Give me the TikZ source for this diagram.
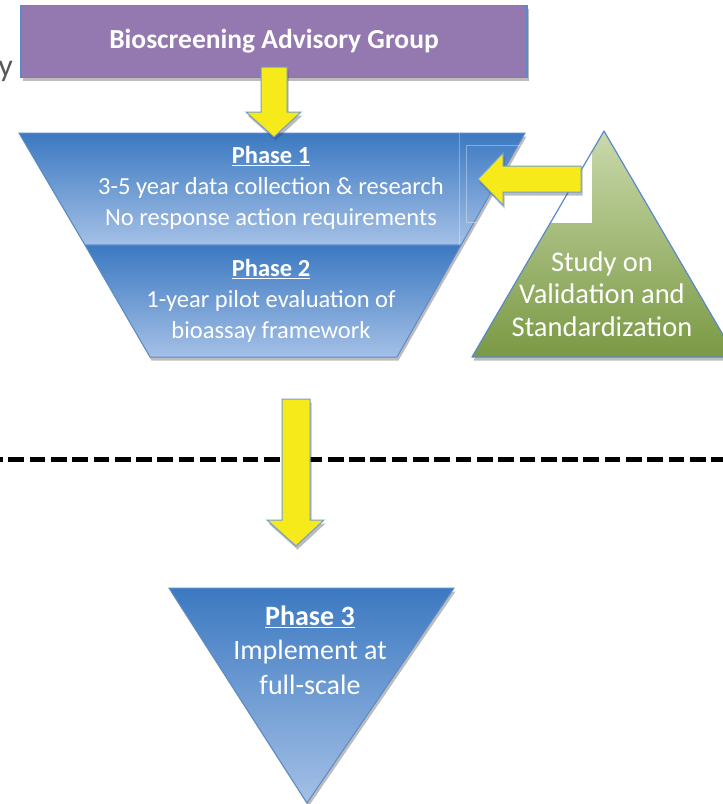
\documentclass[tikz,border=0pt]{standalone}
\usepackage{fontspec}
\setmainfont{Carlito}
\usetikzlibrary{shadows,positioning}

\definecolor{groupfill}{HTML}{9479B0}
\definecolor{edgeblue}{HTML}{5A8AC8}
\definecolor{phasetop}{HTML}{3C79C1}
\definecolor{phasebot}{HTML}{A4C0E6}
\definecolor{studytop}{HTML}{CAD9AB}
\definecolor{studybot}{HTML}{7A9944}
\definecolor{arrowyellow}{HTML}{F6EA1A}

\tikzset{
    softshadow/.style={drop shadow={opacity=0.35,shadow xshift=1.5pt,shadow yshift=-3.5pt,fill=black!75}},
    phasefill/.style={top color=phasetop,bottom color=phasebot,draw=edgeblue,line width=1pt},
    studyfill/.style={top color=studytop,bottom color=studybot},
    yarrow/.style={fill=arrowyellow,draw=edgeblue!85,line width=1pt,softshadow},
    phasetext/.style={text=white,align=center,inner sep=0pt,font=\fontsize{24.5}{31}\selectfont},
}

\begin{document}
\begin{tikzpicture}[x=1pt,y=-1pt]
    \useasboundingbox (0,0) rectangle (723,804);

    % Stray letter cut by the left edge
    \node[anchor=base east,inner sep=0pt,text=black!65,font=\fontsize{32}{32}\selectfont] (stray) at (13,76) {y};

    % Advisory group on top
    \node[fill=groupfill,draw=edgeblue,line width=1.5pt,minimum width=506pt,minimum height=72pt,
          inner sep=0pt,softshadow,text=white,font=\fontsize{27.5}{30}\selectfont\bfseries] (group) at (274,41.5)
          {Bioscreening Advisory Group};

    % Funnel: phase 1 and phase 2
    \path[phasefill,softshadow] (19,133) -- (525,133) -- (461,245) -- (85,245) -- cycle;
    \path[phasefill,softshadow] (85,245) -- (461,245) -- (397,357) -- (150,357) -- cycle;
    \draw[white,opacity=0.3,line width=0.6pt] (459,133) -- (459,245);
    \draw[white,opacity=0.35,line width=0.6pt] (466,145) rectangle (592,222);

    % Study triangle, with the blank patch over it
    \path[studyfill,softshadow] (604,131) -- (736,357) -- (472,357) -- cycle;
    \fill[white] (540,145) rectangle (592,223);
    \draw[edgeblue,line width=1.2pt,line join=round] (604,131) -- (736,357) -- (472,357) -- cycle;

    % Cut-off line
    \draw[line width=5pt,dash pattern=on 15.7pt off 5.6pt,dash phase=13pt] (0,459) -- (723,459);

    % Phase 3
    \path[phasefill,softshadow] (169,588) -- (454,588) -- (307,803) -- cycle;

    % Yellow block arrows
    \path[yarrow] (261,67) -- (287,67) -- (287,112) -- (301,112) -- (274,137) -- (246,112) -- (261,112) -- cycle;
    \path[yarrow] (581,166) -- (581,192) -- (503,192) -- (503,205) -- (478,179) -- (503,153) -- (503,166) -- cycle;
    \path[yarrow] (282,399) -- (310,399) -- (310,520) -- (324,520) -- (296,546) -- (267,520) -- (282,520) -- cycle;

    % Texts
    \node[phasetext] (phase1) at (271,188)
        {\underline{\textbf{Phase 1}}\\3-5 year data collection \& research\\No response action requirements};
    \node[phasetext] (phase2) at (271,301)
        {\underline{\textbf{Phase 2}}\\1-year pilot evaluation of\\bioassay framework};
    \node[phasetext,font=\fontsize{28.5}{32.5}\selectfont] (study) at (602,294)
        {Study on\\Validation and\\Standardization};
    \node[phasetext,font=\fontsize{28}{34.5}\selectfont] (phase3) at (310,650)
        {\underline{\textbf{Phase 3}}\\Implement at\\full-scale};
\end{tikzpicture}
\end{document}
